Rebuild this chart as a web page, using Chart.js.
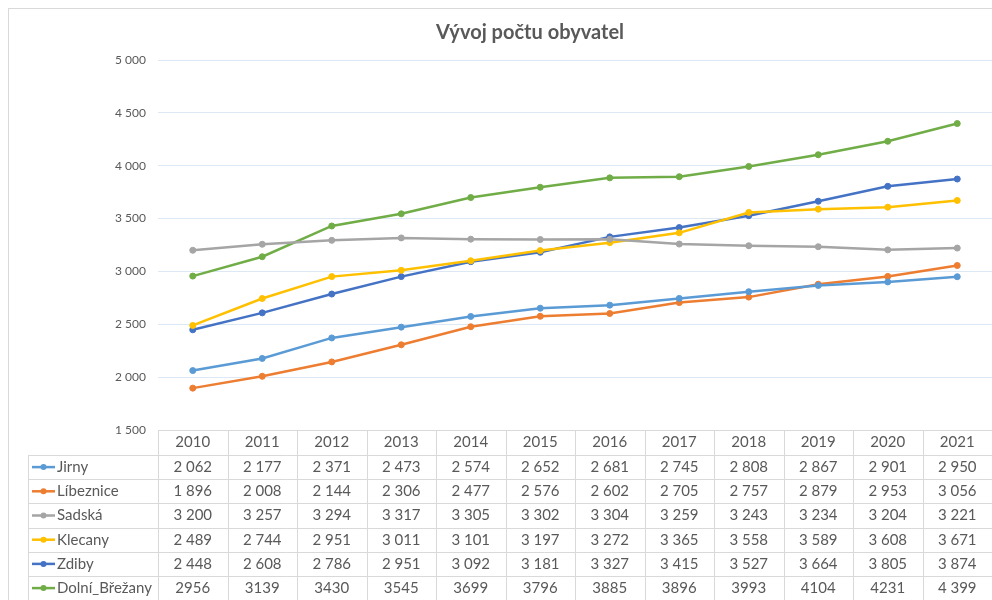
<!DOCTYPE html>
<html lang="cs">
<head>
<meta charset="utf-8">
<title>Vývoj počtu obyvatel</title>
<script src="https://cdn.jsdelivr.net/npm/chart.js@4.4.1/dist/chart.umd.min.js"></script>
<style>
  html, body { margin: 0; padding: 0; background: #fff; overflow: hidden; }
  #obal { position: absolute; left: 0; top: 0; width: 1060px; height: 600px; }
</style>
</head>
<body>
<div id="obal"><canvas id="graf"></canvas></div>
<script>
// roky a počty obyvatel (přečteno z tabulky pod grafem)
const roky = ['2010', '2011', '2012', '2013', '2014', '2015', '2016', '2017', '2018', '2019', '2020', '2021'];

const jirny        = [2062, 2177, 2371, 2473, 2574, 2652, 2681, 2745, 2808, 2867, 2901, 2950];
const libeznice    = [1896, 2008, 2144, 2306, 2477, 2576, 2602, 2705, 2757, 2879, 2953, 3056];
const sadska       = [3200, 3257, 3294, 3317, 3305, 3302, 3304, 3259, 3243, 3234, 3204, 3221];
const klecany      = [2489, 2744, 2951, 3011, 3101, 3197, 3272, 3365, 3558, 3589, 3608, 3671];
const zdiby        = [2448, 2608, 2786, 2951, 3092, 3181, 3327, 3415, 3527, 3664, 3805, 3874];
const dolniBrezany = [2956, 3139, 3430, 3545, 3699, 3796, 3885, 3896, 3993, 4104, 4231, 4399];

// v tabulce je Dolní_Břežany bez mezer (kromě posledního roku)
const dolniBrezanyText = ['2956', '3139', '3430', '3545', '3699', '3796', '3885', '3896', '3993', '4104', '4231', '4 399'];

const FONT = 'Lato, "Open Sans", sans-serif';
const SEDA = '#595959';
const CARA = '#d9d9d9';

function formatCislo(v) {
    return String(v).replace(/\B(?=(\d{3})+(?!\d))/g, ' ');
}

const serie = [
    { nazev: 'Jirny', data: jirny, barva: '#5b9bd5' },
    { nazev: 'Líbeznice', data: libeznice, barva: '#ed7d31' },
    { nazev: 'Sadská', data: sadska, barva: '#a5a5a5' },
    { nazev: 'Klecany', data: klecany, barva: '#ffc000' },
    { nazev: 'Zdiby', data: zdiby, barva: '#4472c4' },
    { nazev: 'Dolní_Břežany', data: dolniBrezany, barva: '#70ad47', text: dolniBrezanyText }
];

// rámeček grafu + bílé pozadí
const ramecek = {
    id: 'ramecek',
    beforeDraw(chart) {
        const { ctx, width, height } = chart;
        ctx.save();
        ctx.fillStyle = '#fff';
        ctx.fillRect(0, 0, width, height);
        ctx.strokeStyle = CARA;
        ctx.lineWidth = 1;
        ctx.strokeRect(8.5, 8.5, width, height);
        ctx.restore();
    }
};

// datová tabulka pod osou X (jako v Excelu)
const tabulka = {
    id: 'tabulka',
    afterDraw(chart) {
        const { ctx, chartArea, scales: { x } } = chart;
        const colW = (chartArea.right - chartArea.left) / roky.length;
        const top = chartArea.bottom;
        const headH = 25;
        const rowH = 24.2;
        const legLeft = 28;
        const bottom = top + headH + rowH * serie.length;

        ctx.save();
        ctx.strokeStyle = CARA;
        ctx.lineWidth = 1;
        ctx.beginPath();
        ctx.moveTo(chartArea.left, top + 0.5);
        ctx.lineTo(chartArea.right + colW, top + 0.5);
        for (let r = 0; r <= serie.length; r++) {
            const y = Math.round(top + headH + r * rowH) + 0.5;
            ctx.moveTo(legLeft, y);
            ctx.lineTo(chartArea.right + colW, y);
        }
        for (let i = 0; i <= roky.length; i++) {
            const xx = Math.round(chartArea.left + i * colW) + 0.5;
            ctx.moveTo(xx, top);
            ctx.lineTo(xx, bottom);
        }
        ctx.moveTo(legLeft + 0.5, top + headH);
        ctx.lineTo(legLeft + 0.5, bottom);
        ctx.stroke();

        ctx.fillStyle = SEDA;
        ctx.font = '15px ' + FONT;
        ctx.textBaseline = 'middle';
        ctx.textAlign = 'center';
        roky.forEach((rok, i) => {
            ctx.fillText(rok, x.getPixelForValue(i), top + headH / 2);
        });

        serie.forEach((s, r) => {
            const yc = top + headH + r * rowH + rowH / 2;
            // značka legendy
            ctx.strokeStyle = s.barva;
            ctx.lineWidth = 2.5;
            ctx.beginPath();
            ctx.moveTo(32, yc);
            ctx.lineTo(55, yc);
            ctx.stroke();
            ctx.fillStyle = s.barva;
            ctx.beginPath();
            ctx.arc(43.5, yc, 3, 0, Math.PI * 2);
            ctx.fill();

            ctx.fillStyle = SEDA;
            ctx.textAlign = 'left';
            ctx.fillText(s.nazev, 57, yc);
            ctx.textAlign = 'center';
            s.data.forEach((v, i) => {
                const t = s.text ? s.text[i] : formatCislo(v);
                ctx.fillText(t, x.getPixelForValue(i), yc);
            });
        });
        ctx.restore();
    }
};

new Chart(document.getElementById('graf'), {
    type: 'line',
    data: {
        labels: roky,
        datasets: serie.map(s => ({
            label: s.nazev,
            data: s.data,
            borderColor: s.barva,
            backgroundColor: s.barva,
            pointBackgroundColor: s.barva,
            pointBorderColor: s.barva,
            borderWidth: 2.5,
            pointRadius: 3,
            pointBorderWidth: 1,
            tension: 0
        }))
    },
    options: {
        responsive: true,
        maintainAspectRatio: false,
        animation: false,
        layout: { padding: { top: 0, left: 0, right: 0, bottom: 170 } },
        plugins: {
            legend: { display: false },
            tooltip: { enabled: false },
            title: {
                display: true,
                text: 'Vývoj počtu obyvatel',
                color: SEDA,
                font: { family: FONT, size: 20, weight: 'bold' },
                padding: { top: 21, bottom: 15 }
            }
        },
        scales: {
            x: {
                display: false,
                offset: true
            },
            y: {
                min: 1500,
                max: 5000,
                afterFit: (scale) => { scale.width = 158; },
                border: { display: false },
                grid: { color: '#dce8f4', drawTicks: false },
                ticks: {
                    stepSize: 500,
                    padding: 12,
                    color: SEDA,
                    font: { family: FONT, size: 12 },
                    callback: (v) => formatCislo(v)
                }
            },
            // prázdná pravá osa – jen zbytek šířky grafu za okrajem okna
            pravo: {
                type: 'linear',
                position: 'right',
                display: true,
                afterFit: (scale) => { scale.width = 68; },
                border: { display: false },
                grid: { display: false },
                ticks: { display: false }
            }
        }
    },
    plugins: [ramecek, tabulka]
});
</script>
</body>
</html>
